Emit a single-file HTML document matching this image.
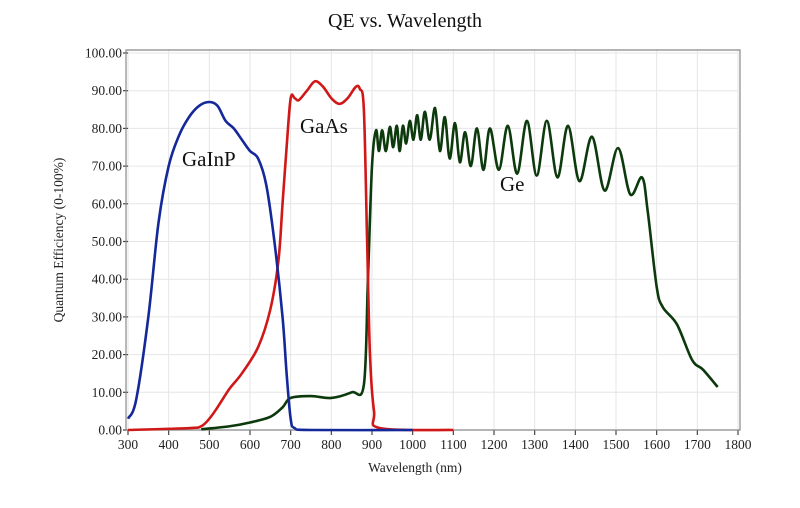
<!DOCTYPE html>
<html><head><meta charset="utf-8"><style>
html,body{margin:0;padding:0;background:#fff;}
svg{display:block;font-family:"Liberation Serif",serif;}
</style></head><body>
<svg id="chart" width="800" height="508" viewBox="0 0 800 508">
<text x="405" y="27" text-anchor="middle" font-size="20" fill="#111">QE vs. Wavelength</text>
<g id="grid"></g>
<g id="axes"></g>
<g id="series"></g>
<text x="182" y="166" font-size="21" fill="#111">GaInP</text>
<text x="300" y="133" font-size="21" fill="#111">GaAs</text>
<text x="500" y="191" font-size="21" fill="#111">Ge</text>
<text x="415" y="472" text-anchor="middle" font-size="13.5" fill="#222">Wavelength (nm)</text>
<text transform="translate(63,240) rotate(-90)" text-anchor="middle" font-size="13.5" fill="#222">Quantum Efficiency (0-100%)</text>
</svg>
<script>
const xTicks=[300,400,500,600,700,800,900,1000,1100,1200,1300,1400,1500,1600,1700,1800];
const yTicks=[0,10,20,30,40,50,60,70,80,90,100];
const yTickLabels=["0.00","10.00","20.00","30.00","40.00","50.00","60.00","70.00","80.00","90.00","100.00"];
const gainpWl=[300,320,350,375,400,425,450,475,500,520,540,560,580,600,620,640,660,680,690,700,710,750,1000];
const gainpQe=[3,8,30,55,70,78,83,86,87,86,82,80,77,74,72,65,50,30,15,3,0.5,0,0];
const gaasWl=[300,450,480,500,520,550,580,620,650,670,680,690,700,710,720,740,760,780,800,820,840,860,870,880,888,895,905,920,1100];
const gaasQe=[0,0.5,1,3,6,11,15,22,32,45,60,75,88,88,87.5,90,92.5,91,88,86.5,88,91,90.5,85,50,20,5,0.5,0];
const geWl=[480,550,600,650,680,700,750,800,850,880,890,900,910,917,925,934,944,952,961,968,976,984,993,1002,1011,1020,1030,1042,1055,1067,1079,1091,1104,1116,1129,1143,1158,1174,1190,1212,1234,1257,1281,1305,1330,1356,1382,1410,1441,1472,1505,1535,1564,1578,1600,1615,1650,1687,1714,1750];
const geQe=[0.2,1,2,3.5,6,8.5,9,8.5,10,12,40,70,79.5,74,79.5,74,80.4,75,80.7,74,80.7,76,82,77,83.5,77,84.4,77,85.4,74,83,72,81.4,71,79,70,80,69,80,69,80.7,68,82,67.5,82,67,80.7,66,77.8,63.5,74.8,62.5,67,58,38,32.6,28,18.6,16,11.4];

const X0=128,X1=738,Y0=430,Y1=53;
function sx(w){return X0+(w-300)/(1800-300)*(X1-X0);}
function sy(v){return Y0-v/100*(Y0-Y1);}
const NS="http://www.w3.org/2000/svg";
function mk(t,a,p){const e=document.createElementNS(NS,t);for(const k in a)e.setAttribute(k,a[k]);p.appendChild(e);return e;}
const grid=document.getElementById('grid'),axes=document.getElementById('axes'),series=document.getElementById('series');
xTicks.forEach((w,i)=>{
  const g=mk('line',{x1:sx(w),x2:sx(w),y1:Y1-3,y2:Y0,stroke:'#e6e6e6','stroke-width':1},grid);
  
  
  const t=mk('line',{x1:sx(w),x2:sx(w),y1:Y0,y2:Y0+5,stroke:'#444','stroke-width':1.2},axes);
  
  
  const l=mk('text',{x:sx(w),y:Y0+19,'text-anchor':'middle','font-size':13.5,fill:'#222'},axes);
  l.textContent=w;
  
  
});
yTicks.forEach((v,i)=>{
  const g=mk('line',{x1:X0,x2:X1,y1:sy(v),y2:sy(v),stroke:'#e6e6e6','stroke-width':1},grid);
  
  
  const t=mk('line',{x1:X0-5,x2:X0,y1:sy(v),y2:sy(v),stroke:'#444','stroke-width':1.2},axes);
  
  
  const l=mk('text',{x:X0-6,y:sy(v)+4.5,'text-anchor':'end','font-size':13.5,fill:'#222'},axes);
  l.textContent=yTickLabels[i];
  
  
});
const fr=mk('path',{d:`M${X0-2},${Y0} V${Y1-3} H${X1+2} V${Y0} H${X0-2}`,fill:'none',stroke:'#888','stroke-width':1.2},axes);


function curve(ws,vs){
  const p=ws.map((w,i)=>[sx(w),sy(vs[i])]);
  let d=`M${p[0][0]},${p[0][1]}`;
  for(let i=0;i<p.length-1;i++){
    const a=p[i-1]||p[i],b=p[i],c=p[i+1],e=p[i+2]||c;
    d+=` C${b[0]+(c[0]-a[0])/6},${b[1]+(c[1]-a[1])/6} ${c[0]-(e[0]-b[0])/6},${c[1]-(e[1]-b[1])/6} ${c[0]},${c[1]}`;
  }
  return d;
}
const ge=mk('path',{d:curve(geWl,geQe),fill:'none',stroke:'#0d3a0d','stroke-width':2.6},series);


const gaas=mk('path',{d:curve(gaasWl,gaasQe),fill:'none',stroke:'#d01818','stroke-width':2.6},series);


const gainp=mk('path',{d:curve(gainpWl,gainpQe),fill:'none',stroke:'#14289a','stroke-width':2.6},series);


</script>
</body></html>
